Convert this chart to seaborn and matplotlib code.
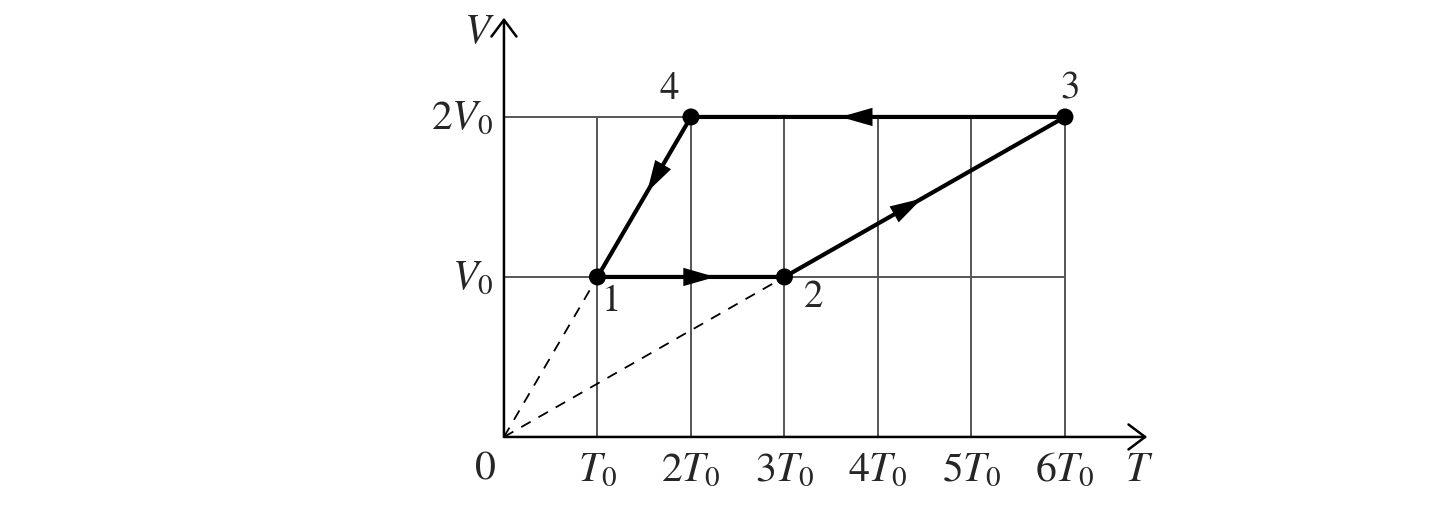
import numpy as np
import pandas as pd
import matplotlib
matplotlib.use("Agg")
import matplotlib.pyplot as plt
import seaborn as sns

# V-T diagram of the cycle 1 -> 2 -> 3 -> 4 -> 1 (units of T0, V0)
states = ["1", "2", "3", "4"]
T_vals = [1, 3, 6, 2]
V_vals = [1, 1, 2, 2]

# where the arrow tip sits along each leg (fraction of the leg)
arrow_frac = [0.63, 0.49, 0.60, 0.47]

# label offsets (points) for the state numbers
label_dx = [10, 21, 4, -16]
label_dy = [-18, -15, 20, 20]

x_ticks = [1, 2, 3, 4, 5, 6]
x_tick_labels = [r"$T_0$", r"$2T_0$", r"$3T_0$", r"$4T_0$", r"$5T_0$", r"$6T_0$"]
y_ticks = [1, 2]
y_tick_labels = [r"$V_0$", r"$2V_0$"]

T_axis_end = 6.88
V_axis_end = 2.62

sns.set_theme(style="white")
plt.rcParams["mathtext.fontset"] = "stix"
plt.rcParams["font.family"] = ["STIXGeneral", "DejaVu Serif"]

fig = plt.figure(figsize=(14.38, 5.24), dpi=100)
ax = fig.add_axes([0, 0, 1, 1])
ax.set_xlim(-5.39, 9.99)
ax.set_ylim(-0.544, 2.731)
ax.axis("off")

grid_c = "#555555"
# grid lines
ax.vlines(x_ticks, 0, max(y_ticks), color=grid_c, lw=1.4, zorder=1)
ax.hlines(y_ticks, 0, max(x_ticks), color=grid_c, lw=1.4, zorder=1)

# axes with open arrow heads
for end in [(T_axis_end, 0), (0, V_axis_end)]:
    ax.annotate("", xy=end, xytext=(0, 0),
                arrowprops=dict(arrowstyle="->,head_length=0.6,head_width=0.45",
                                color="black", lw=1.8, shrinkA=0, shrinkB=0,
                                mutation_scale=20), zorder=2)

# dashed isobars through 1 and 2
for i in [0, 1]:
    ax.plot([0, T_vals[i]], [0, V_vals[i]], color="black", lw=1.3,
            ls=(0, (6, 5)), zorder=2)

# the cycle
cyc = pd.DataFrame({"T": T_vals + [T_vals[0]], "V": V_vals + [V_vals[0]]})
sns.lineplot(data=cyc, x="T", y="V", sort=False, estimator=None,
             color="black", lw=3, ax=ax, zorder=3)
sns.scatterplot(x=T_vals, y=V_vals, color="black", s=150, edgecolor="none",
                ax=ax, zorder=4)

# direction arrows on each leg
n = len(T_vals)
for i in range(n):
    x0, y0 = T_vals[i], V_vals[i]
    x1, y1 = T_vals[(i + 1) % n], V_vals[(i + 1) % n]
    f = arrow_frac[i]
    tip = (x0 + f * (x1 - x0), y0 + f * (y1 - y0))
    back = (x0 + (f - 0.05) * (x1 - x0), y0 + (f - 0.05) * (y1 - y0))
    ax.annotate("", xy=tip, xytext=back,
                arrowprops=dict(arrowstyle="-|>,head_length=1.15,head_width=0.33",
                                color="black", lw=0, shrinkA=0, shrinkB=0,
                                mutation_scale=20), zorder=5)

# state labels
for i, s in enumerate(states):
    ax.annotate(s, (T_vals[i], V_vals[i]), xytext=(label_dx[i], label_dy[i]),
                textcoords="offset points", ha="center", va="center",
                fontsize=28, zorder=6)

# tick labels and axis names
fs = 30
for t, lab in zip(x_ticks, x_tick_labels):
    ax.annotate(lab, (t, 0), xytext=(0, -25), textcoords="offset points",
                ha="center", va="center", fontsize=fs)
for v, lab in zip(y_ticks, y_tick_labels):
    ax.annotate(lab, (0, v), xytext=(-8, -2), textcoords="offset points",
                ha="right", va="center", fontsize=fs)
ax.annotate("0", (0, 0), xytext=(-13, -24), textcoords="offset points",
            ha="center", va="center", fontsize=fs)
ax.annotate(r"$T$", (T_axis_end, 0), xytext=(-6, -25), textcoords="offset points",
            ha="center", va="center", fontsize=fs)
ax.annotate(r"$V$", (0, V_axis_end), xytext=(-18, -11), textcoords="offset points",
            ha="center", va="center", fontsize=fs)

plt.savefig("out.png", dpi=100)
